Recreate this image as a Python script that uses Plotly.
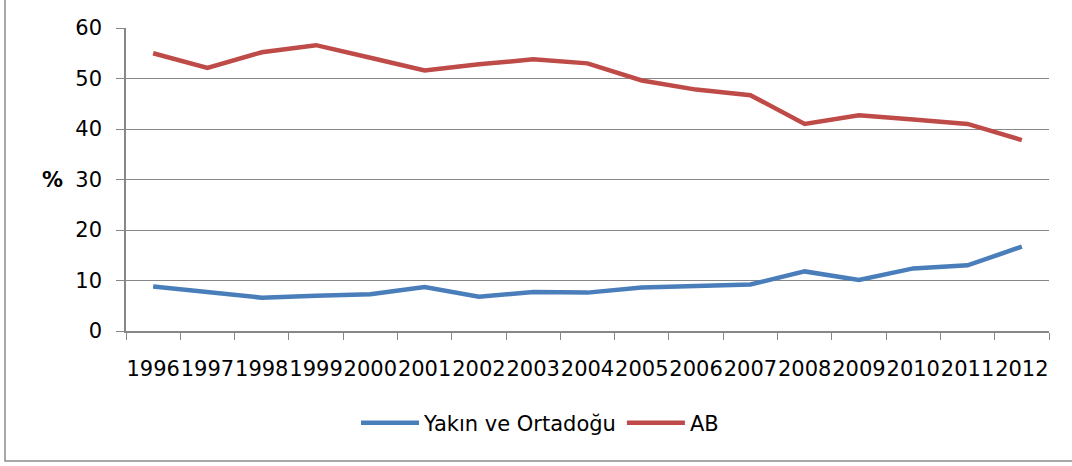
import plotly.graph_objects as go

years = [str(y) for y in range(1996, 2013)]
yakin_ortadogu = [8.8, 7.6, 6.6, 7.0, 7.3, 8.7, 6.8, 7.7, 7.6, 8.6, 8.9, 9.2, 11.8, 10.1, 12.4, 13.0, 16.7]
ab = [55.0, 52.1, 55.2, 56.6, 54.1, 51.6, 52.8, 53.8, 53.0, 49.6, 47.8, 46.7, 41.0, 42.7, 41.9, 41.0, 37.8]
y_ticks = [0, 10, 20, 30, 40, 50, 60]

FONT = "DejaVu Sans"
GRID = "#878787"

fig = go.Figure()
fig.add_trace(go.Scatter(x=years, y=yakin_ortadogu, mode="lines", name="Yakın ve Ortadoğu",
                         line=dict(color="#4A7EBB", width=4.5)))
fig.add_trace(go.Scatter(x=years, y=ab, mode="lines", name="AB",
                         line=dict(color="#BE4B48", width=4.5)))

L, R, T, B = 126, 23, 28, 135
W, H = 1072, 466
pw, ph = W - L - R, H - T - B

def px_x(p):
    return (p - L) / pw

def px_y(p):
    return (H - B - p) / ph

fig.update_layout(
    width=W, height=H,
    margin=dict(l=L, r=R, t=T, b=B),
    paper_bgcolor="white", plot_bgcolor="white",
    font=dict(family=FONT, size=21, color="black"),
    showlegend=True,
    legend=dict(orientation="h", x=px_x(540), xanchor="center", y=px_y(423), yanchor="middle",
                font=dict(family=FONT, size=21), itemwidth=58, tracegroupgap=0,
                bgcolor="rgba(0,0,0,0)"),
    xaxis=dict(type="category", range=[-0.5, len(years) - 0.5], tickson="boundaries",
               ticks="outside", ticklen=7,
               tickcolor=GRID, showline=True, linecolor=GRID, linewidth=1.5,
               showgrid=False, tickangle=0, ticklabelstandoff=18,
               tickfont=dict(family=FONT, size=21)),
    yaxis=dict(range=[0, 60], tickvals=y_ticks, ticks="outside", ticklen=8,
               tickcolor=GRID, showline=True, linecolor=GRID, linewidth=1.5,
               showgrid=True, gridcolor=GRID, gridwidth=1.2, zeroline=False,
               ticklabelstandoff=10, tickfont=dict(family=FONT, size=21)),
    annotations=[dict(text="<b>%</b>", x=px_x(52), y=30, xref="paper", yref="y",
                      showarrow=False, xanchor="center", yanchor="middle",
                      font=dict(family=FONT, size=21, color="black"))],
    shapes=[dict(type="rect", xref="paper", yref="paper",
                 x0=px_x(5), x1=px_x(1085), y0=px_y(461), y1=px_y(-10),
                 line=dict(color="#8C8C8C", width=1.5), fillcolor="rgba(0,0,0,0)", layer="below")],
)

fig.write_html("out.html", config={"displayModeBar": False},
               post_script="document.body.style.margin='0';")
